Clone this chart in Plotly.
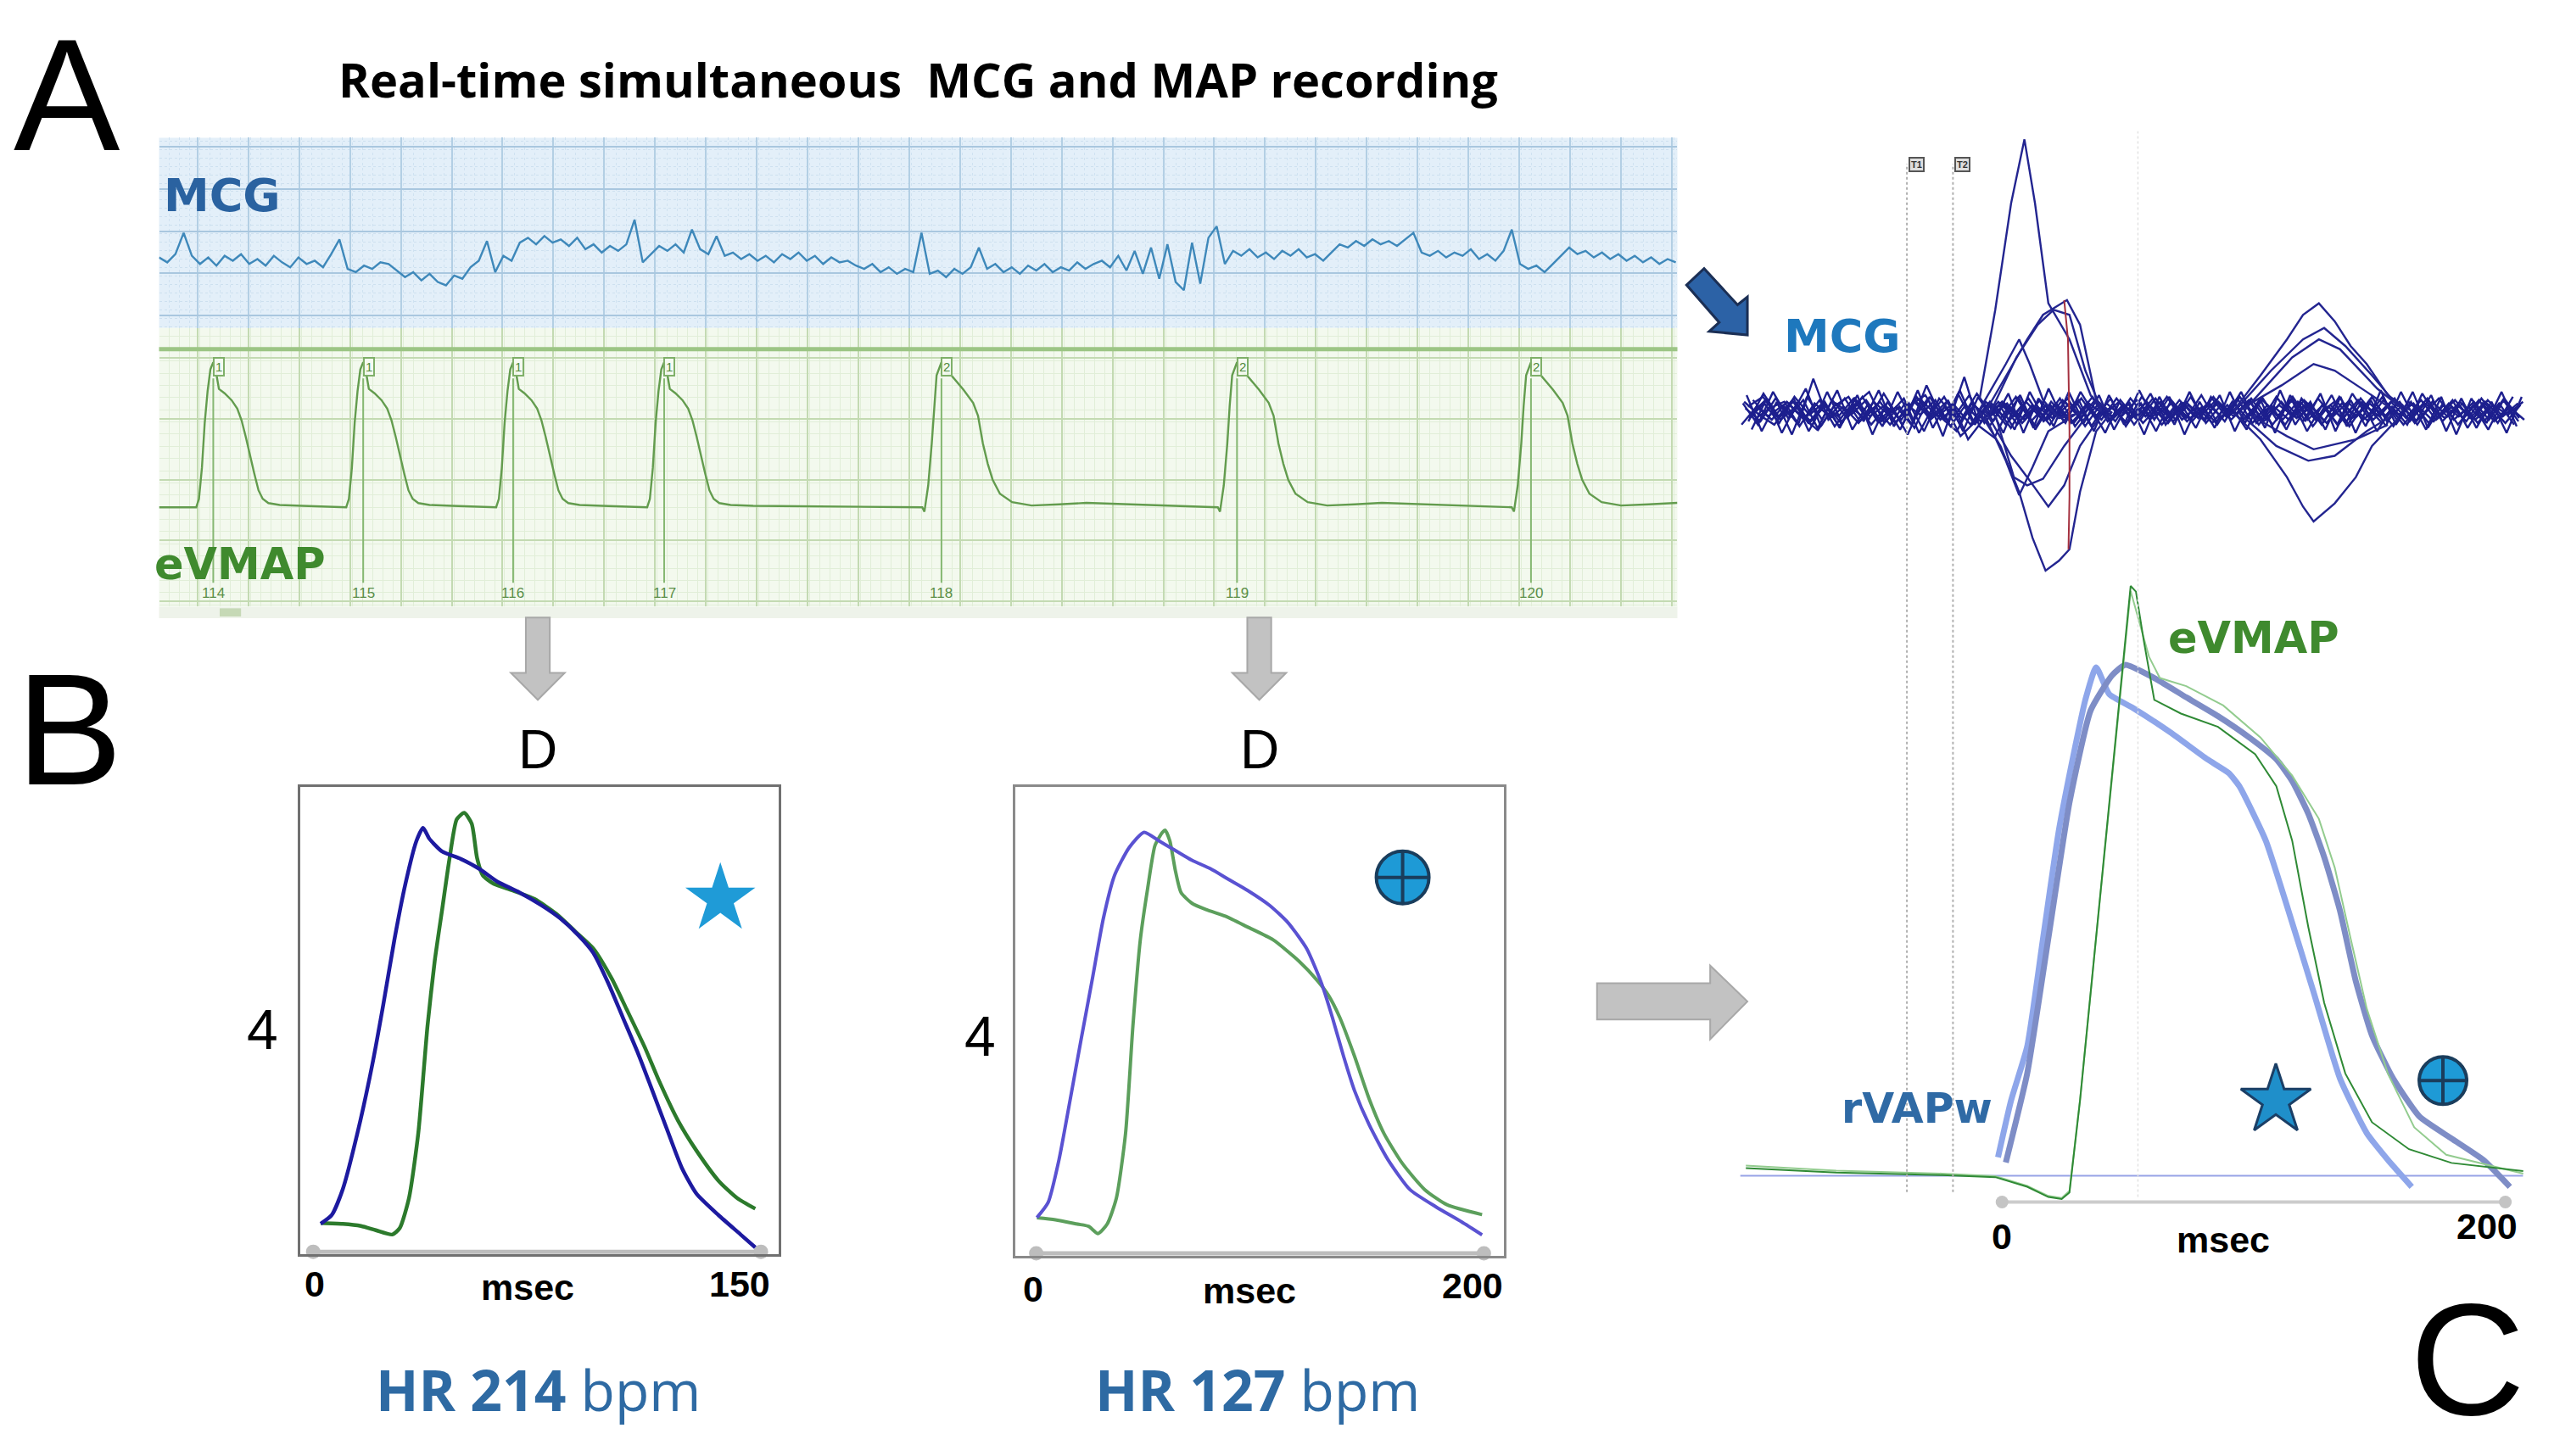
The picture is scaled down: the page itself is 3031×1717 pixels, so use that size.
import plotly.graph_objects as go

# ---------------- DATA ----------------
# Panel A: MCG strip (offset units, sampled every 15.2 ms)
MCG_A_DT_MS = 15.2
MCG_A_VALUES = [1, -2, 3, 16, 2, -3, 1, -4, 2, -1, 3, -3, 0, -4, 2, -2, -5, 1, -3, -1,
                -5, 3, 12, -6, -8, -4, -6, -2, -3, -7, -11, -8, -13, -9, -14, -16, -10, -12, -5, -1,
                11, -8, 2, -1, 10, 13, 9, 14, 10, 12, 8, 13, 6, 9, 4, 8, 5, 9, 24, -2,
                3, 8, 5, 9, 4, 18, 6, 3, 14, 2, 4, 0, 3, -1, 2, -2, 3, 0, 4, -1,
                2, -3, 1, -2, -1, -4, -6, -3, -8, -5, -9, -6, -8, 16, -9, -7, -11, -6, -9, -5,
                7, -6, -3, -8, -5, -9, -4, -7, -3, -8, -5, -7, -2, -6, -3, -1, -5, 2, -7, 5,
                -9, 7, -12, 9, -14, -19, 10, -15, 13, 20, -3, 5, 2, 6, 1, 4, 0, 5, 2, 6,
                1, 3, -1, 4, 9, 7, 11, 8, 12, 9, 11, 8, 12, 16, 4, 2, 5, 1, 4, 2,
                6, 0, 3, -1, 5, 18, -3, -6, -4, -8, -3, 2, 7, 3, 5, 1, 4, 0, 3, -1,
                2, -2, 1, -3, 0, -2]
A_RANGE_MS = 2815

# Panel A: eVMAP beats (foot times in ms), labels and markers
EVMAP_FEET_MS = [69, 347, 625, 905, 1419, 1967, 2512]
BEAT_LABELS = ["114", "115", "116", "117", "118", "119", "120"]
BEAT_MARKS = ["1", "1", "1", "1", "2", "2", "2"]
FAST_T = [0, 5, 10.5, 15.7, 21, 26.2, 31.5, 36.7, 42, 52.4, 65.5, 76, 83.9, 91.8, 99.6, 107.5,
          115.4, 123.2, 133.7, 154.7, 196.6]
FAST_V = [0, 0.058, 0.272, 0.583, 0.80, 0.951, 1.0, 0.93, 0.816, 0.786, 0.738, 0.68, 0.60, 0.485,
          0.35, 0.233, 0.117, 0.058, 0.029, 0.016, 0.01]
SLOW_T = [-4, 0, 7, 13.6, 18, 22.6, 31.6, 40, 49.7, 72.3, 90.3, 99.4, 108.4, 117.4, 126.5, 140,
          162.6, 198.7, 250, 300]
SLOW_V = [0.0, -0.03, 0.15, 0.44, 0.70, 0.91, 1.0, 0.93, 0.91, 0.81, 0.72, 0.63, 0.44, 0.30, 0.19,
          0.093, 0.035, 0.012, 0.02, 0.03]

# Panel B1 (HR 214 bpm): time ms, amplitude (normalised)
B1_BLUE_T = [2.5, 6.2, 9.9, 14.8, 19.8, 23.5, 27.2, 30.9, 34.6, 36.8, 38.9, 43.2, 49.4, 55.6, 61.7,
             69.1, 76.5, 82.7, 88.9, 93.8, 98.8, 103.7, 108.6, 113.6, 118.5, 123.5, 128.4, 135.8,
             143.2, 148.1]
B1_BLUE_V = [0.065, 0.085, 0.145, 0.275, 0.435, 0.575, 0.725, 0.855, 0.955, 0.985, 0.96, 0.93, 0.913,
             0.89, 0.86, 0.835, 0.805, 0.775, 0.735, 0.695, 0.625, 0.545, 0.465, 0.375, 0.285, 0.195,
             0.135, 0.085, 0.04, 0.01]
B1_GREEN_T = [2.5, 9.9, 16.0, 21.0, 26.5, 29.0, 32.1, 35.2, 38.3, 40.7, 43.2, 45.7, 48.1, 50.6, 53.1,
              54.9, 56.8, 60.5, 66.7, 74.1, 81.5, 87.7, 93.8, 100.0, 104.9, 111.1, 116.0, 122.2,
              128.4, 135.8, 142.0, 148.1]
B1_GREEN_V = [0.067, 0.065, 0.06, 0.05, 0.04, 0.055, 0.125, 0.275, 0.525, 0.675, 0.795, 0.915, 1.005,
              1.02, 0.995, 0.915, 0.875, 0.855, 0.84, 0.82, 0.785, 0.745, 0.705, 0.635, 0.565, 0.475,
              0.395, 0.305, 0.235, 0.165, 0.125, 0.10]
B1_X_ENDS = [0, 150]
B1_STAR = (136.4, 0.82)

# Panel B2 (HR 127 bpm)
B2_BLUE_T = [0.3, 5.3, 10.2, 15.2, 20.1, 25.1, 30.0, 35.0, 41.6, 48.2, 54.8, 61.4, 69.6, 77.9, 86.1,
             94.4, 104.3, 112.5, 120.8, 127.4, 132.3, 137.3, 142.2, 148.8, 157.1, 167.0, 178.6,
             190.1, 199.2]
B2_BLUE_V = [0.083, 0.118, 0.218, 0.358, 0.498, 0.638, 0.778, 0.878, 0.943, 0.978, 0.958, 0.938,
             0.913, 0.893, 0.868, 0.843, 0.808, 0.768, 0.708, 0.628, 0.548, 0.458, 0.378, 0.298,
             0.218, 0.148, 0.108, 0.073, 0.043]
B2_GREEN_T = [0.3, 8.6, 18.5, 23.4, 27.6, 31.7, 35.8, 39.9, 43.2, 46.5, 49.8, 53.1, 56.4, 57.6, 59.7,
              62.2, 64.7, 69.6, 76.2, 84.5, 94.4, 105.9, 117.5, 125.7, 130.7, 135.6, 142.2, 148.8,
              155.4, 163.7, 173.6, 183.5, 199.2]
B2_GREEN_V = [0.083, 0.078, 0.068, 0.063, 0.046, 0.068, 0.128, 0.278, 0.528, 0.728, 0.848, 0.948,
              0.978, 0.983, 0.958, 0.888, 0.838, 0.813, 0.798, 0.783, 0.758, 0.728, 0.678, 0.633,
              0.598, 0.548, 0.458, 0.358, 0.278, 0.208, 0.148, 0.113, 0.090]
B2_X_ENDS = [0, 200]
B2_CIRCLE = (163.7, 0.873)

# Panel C: MCG overlay (ms, offset units)
MCG_C_DT = 6
MCG_C_BAND_T0 = [-102, -100.5, -99, -103.5, -101, -98.5, -102.5, -100, -101.5, -99.5, -103, -100.8]
MCG_C_BAND = [
    [2, -6, 8, -3, 14, -9, 5, -2, 7, -6, 3, -8, 16, -4, -12, 5, -3, 6, -8, 4, -5, 7, -2, 9, -6, 4,
     -3, 8, -7, 5, -4, 9, -3, 6, -8, 3, -5, 7, -2, 6, -9, 4, -3, 8, -6, 5, -2, 7, -4, 6, -3, 2],
    [-4, 5, -7, 9, -2, 6, -10, 8, -3, 4, -11, 7, -5, 3, -15, -6, 4, -8, 3, -9, 6, -4, 8, -5, 3, -7,
     9, -2, 5, -6, 3, -8, 6, -4, 7, -3, 9, -5, 4, -8, 3, -6, 7, -2, 5, -7, 4, -3, 6, -5, 8, -4],
    [7, -3, 4, -8, 20, -5, 3, -7, 6, -2, 8, -13, 4, -6, 21, -9, -16, 3, -5, 7, -3, 5, -9, 4, -6, 8,
     -3, 6, -5, 9, -7, 4, -2, 8, -5, 6, -4, 3, -7, 5, -3, 9, -6, 4, -8, 6, -3, 5, -7, 4, -2, 6],
    [-8, 3, -5, 6, -3, -11, 7, -4, 9, -6, 2, -14, 6, -3, 5, -17, -5, 6, -3, 8, -6, 3, -7, 5, -2, 6,
     -8, 4, -5, 7, -3, 5, -6, 9, -4, 3, -8, 6, -5, 4, -7, 8, -3, 6, -4, 7, -5, 3, -6, 8, -4, 3],
    [3, 9, -4, 6, -7, 4, -3, 8, -5, 11, -4, 6, -3, 9, -7, 4, -9, 5, -6, 3, -8, 6, -4, 7, -6, 3,
     -5, 8, -4, 6, -3, 7, -5, 4, -6, 9, -3, 5, -8, 6, -4, 3, -7, 5, -3, 8, -6, 4, -5, 7, -3, 5],
    [-5, 2, 6, -9, 5, -3, 8, -6, 3, -8, 5, -2, 7, -9, 4, -6, 3, -10, 6, -4, 5, -7, 3, -5, 8, -4,
     6, -8, 3, -6, 5, -4, 8, -7, 4, -5, 6, -9, 3, -4, 7, -5, 4, -8, 3, -6, 5, -4, 7, -6, 3, -5],
    [6, -2, -8, 4, -5, 7, -9, 3, -4, 6, -7, 4, 10, -5, 3, -8, 6, -4, 9, -6, 4, -3, 6, -9, 5, -3,
     7, -4, 9, -5, 3, -7, 4, -6, 5, -8, 4, -6, 8, -3, 6, -5, 3, -9, 6, -2, 8, -5, 3, -6, 5, -8],
    [-2, 7, -5, 3, -6, 4, -7, 5, -8, 3, -5, 9, -3, 6, -4, 11, -2, 5, -7, 3, -4, 8, -6, 4, -3, 5,
     -7, 3, -6, 4, -5, 6, -3, 7, -6, 4, -3, 5, -6, 9, -4, 5, -3, 6, -7, 3, -4, 6, -5, 3, -7, 4],
    [10, -12, 6, -14, 9, -5, 13, -11, 4, -9, 12, -6, 8, -15, 11, -7, 5, -13, 9, -10, 14, -6, 7,
     -12, 10, -8, 13, -5, 9, -14, 6, -10, 12, -7, 8, -13, 10, -6, 11, -12, 7, -9, 13, -8, 6, -11,
     9, -14, 8, -7, 12, -9],
    [-11, 8, -13, 5, -9, 12, -7, 10, -14, 6, -8, 13, -10, 7, -12, 9, -6, 11, -13, 8, -9, 12, -7, 10,
     -11, 6, -14, 9, -8, 12, -6, 10, -12, 7, -10, 13, -8, 6, -11, 9, -13, 7, -9, 12, -6, 10, -12,
     8, -10, 6, -13, 9],
    [5, -8, 12, -4, 7, -11, 3, 9, -6, 13, -9, 5, -12, 8, -3, 10, -7, 4, -11, 12, -5, 8, -9, 3, -13,
     7, -4, 11, -8, 5, -10, 9, -3, 12, -7, 4, -11, 8, -5, 10, -9, 6, -12, 3, -8, 11, -4, 7, -10, 5,
     -7, 9],
    [-6, 11, -3, 8, -12, 5, -9, 4, 12, -7, 3, -10, 9, -5, 13, -8, 6, -4, 10, -11, 4, -7, 12, -3, 8,
     -9, 5, -12, 7, -4, 10, -6, 3, -11, 9, -5, 7, -12, 4, -8, 11, -3, 9, -6, 12, -10, 5, -8, 4, -11,
     7, -6],
]
MCG_C_DEFLECTIONS = [
    ([-9, -2.7, 3.6, 8.9, 13.1, 18.4, 26.8, 35.2, 39.5], [7, 62, 127, 166, 127, 66, 44, 10, 0]),
    ([-9, -0.6, 6.8, 12.1, 17.3, 22.6, 26.8, 31.0, 37.4, 43.7], [0, -21, -49, -77, -97, -91, -84, -49, -12, 0]),
    ([-9, 1.5, 6.8, 11, 16.3, 22.6, 31], [1, 29, 44, 29, 7, -4, -1]),
    ([-6.9, 10, 16.3, 25.8, 31, 37.4, 43.7], [-1, 44, 59, 68, 53, 7, -1]),
    ([-6.9, 1.5, 6.8, 12.1, 18.4, 28.9], [-2, -30, -51, -34, -12, -2]),
    ([-6.9, 3.6, 10, 18.4, 24.7, 31, 39.5], [1, -27, -40, -58, -45, -21, -2]),
    ([-4.8, 5.7, 14.2, 20.5, 26.8, 33.1, 39.5], [-1, 33, 53, 62, 59, 25, 1]),
    ([-2.7, 4.7, 10, 16.3, 24.7, 33.1], [-2, -40, -45, -41, -21, -4]),
    ([92.2, 102.7, 113.2, 119.6, 125.9, 132.2, 138.5, 144.9, 153.3, 161.7], [1, 22, 44, 59, 66, 55, 40, 29, 10, 1]),
    ([92.2, 106.9, 119.6, 128, 136.4, 147, 157.5], [0, 25, 44, 51, 40, 22, 3]),
    ([94.3, 111.1, 123.8, 132.2, 144.9, 155.4], [1, 16, 29, 25, 12, 1]),
    ([92.2, 102.7, 113.2, 119.6, 123.8, 132.2, 140.6, 147, 157.5], [-1, -17, -40, -58, -67, -56, -40, -21, -4]),
    ([94.3, 109, 121.7, 132.2, 144.9, 155.4], [-1, -21, -30, -27, -12, -2]),
    ([98.5, 113.2, 123.8, 140.6, 153.3], [-2, -15, -23, -17, -8]),
    ([96.4, 115.3, 125.9, 134.3, 149.1, 159.6], [1, 33, 44, 38, 14, 1]),
]
MCG_C_RED = ([24.7, 26.2, 26.8, 26.8, 26.4], [68, 44, -12, -52, -84])
T_MARKERS_MS = [-37.8, -19.5]
T_MARKER_LABELS = ["T1", "T2"]

# Panel C: superimposed action potentials (ms, normalised)
C_RVAP_FAST_T = [-1.6, 3.6, 10.0, 16.3, 22.6, 28.9, 33.1, 37.4, 42.6, 52.1, 66.9, 81.6, 90.1, 94.3,
                 104.8, 113.2, 123.8, 134.3, 144.9, 153.3, 162.8]
C_RVAP_FAST_V = [0.036, 0.148, 0.254, 0.467, 0.680, 0.840, 0.936, 1.0, 0.947, 0.920, 0.872, 0.819,
                 0.792, 0.766, 0.659, 0.531, 0.361, 0.191, 0.084, 0.031, -0.022]
C_RVAP_SLOW_T = [1.5, 10.0, 18.4, 26.8, 35.2, 43.7, 49.0, 60.5, 73.2, 85.8, 98.5, 109.0, 115.3, 121.7,
                 128.0, 134.3, 140.6, 147.0, 155.4, 165.9, 178.6, 191.2, 201.8]
C_RVAP_SLOW_V = [0.026, 0.201, 0.467, 0.734, 0.915, 0.984, 1.005, 0.979, 0.941, 0.904, 0.861, 0.819,
                 0.776, 0.712, 0.627, 0.521, 0.382, 0.276, 0.191, 0.116, 0.073, 0.031, -0.022]
C_EVMAP_A_T = [-101.8, -65.9, -23.8, -2.7, 10.0, 18.4, 23.7, 26.8, 31.0, 35.2, 39.5, 43.7, 47.9, 51.1,
               53.2, 56.3, 60.5, 71.1, 85.8, 100.6, 109.0, 115.3, 121.7, 128.0, 136.4, 147.0, 161.7,
               178.6, 207.1]
C_EVMAP_A_V = [0.015, 0.006, 0.001, -0.003, -0.022, -0.042, -0.046, -0.033, 0.148, 0.361, 0.574, 0.787,
               1.0, 1.160, 1.149, 1.053, 0.936, 0.909, 0.883, 0.829, 0.766, 0.659, 0.489, 0.340, 0.201,
               0.105, 0.052, 0.025, 0.009]
C_EVMAP_B_T = [-101.8, -65.9, -23.8, -2.7, 10.0, 18.4, 23.7, 26.8, 31.0, 35.2, 39.5, 43.7, 47.9, 51.1,
               58.4, 62.7, 73.2, 87.9, 102.7, 115.3, 125.9, 132.2, 138.5, 144.9, 153.3, 163.8, 176.5,
               207.1]
C_EVMAP_B_V = [0.02, 0.01, 0.004, -0.001, -0.02, -0.04, -0.044, -0.03, 0.15, 0.36, 0.57, 0.79, 1.0,
               1.15, 1.021, 0.979, 0.963, 0.925, 0.862, 0.787, 0.702, 0.606, 0.467, 0.329, 0.201,
               0.095, 0.041, 0.004]
C_BASELINE_T = [-104, 207]
C_X_ENDS = [0, 200]
C_AXIS_LEVEL = -0.052
C_STAR = (108.8, 0.148)
C_CIRCLE = (175.2, 0.187)

# ---------------- LAYOUT HELPERS (reference pixel grid 1568x888) ----------------
def px(x):
    return x / 1568.0


def py(y):
    return 1 - y / 888.0


fig = go.Figure()
NOHOV = dict(hoverinfo="skip", showlegend=False)

# ---- Panel A: MCG strip
tA = [i * MCG_A_DT_MS for i in range(len(MCG_A_VALUES))]
fig.add_trace(go.Scatter(x=tA, y=MCG_A_VALUES, xaxis="x", yaxis="y", mode="lines",
                         line=dict(color="#3e88ba", width=2.4), **NOHOV))

# ---- Panel A: eVMAP strip
ev_t, ev_v = [0.0], [0.0]
for foot, mark in zip(EVMAP_FEET_MS, BEAT_MARKS):
    T, V = (FAST_T, FAST_V) if mark == "1" else (SLOW_T, SLOW_V)
    for t, v in zip(T, V):
        if foot + t > ev_t[-1]:
            ev_t.append(foot + t)
            ev_v.append(v)
ev_t.append(A_RANGE_MS)
ev_v.append(0.03)
peaks = []
for foot, mark in zip(EVMAP_FEET_MS, BEAT_MARKS):
    T, V = (FAST_T, FAST_V) if mark == "1" else (SLOW_T, SLOW_V)
    peaks.append(foot + T[V.index(max(V))])
mx, my = [], []
for pk in peaks:
    mx += [pk, pk, None]
    my += [0.888, -0.52, None]
fig.add_trace(go.Scatter(x=mx, y=my, xaxis="x2", yaxis="y2", mode="lines",
                         line=dict(color="#86b873", width=2), **NOHOV))
fig.add_trace(go.Scatter(x=ev_t, y=ev_v, xaxis="x2", yaxis="y2", mode="lines",
                         line=dict(color="#639c4e", width=2.4), **NOHOV))

# ---- Panel B1
fig.add_trace(go.Scatter(x=B1_X_ENDS, y=[0, 0], xaxis="x3", yaxis="y3", mode="lines+markers",
                         line=dict(color="#bdbdbd", width=5), marker=dict(color="#bdbdbd", size=17),
                         cliponaxis=False, **NOHOV))
fig.add_trace(go.Scatter(x=B1_GREEN_T, y=B1_GREEN_V, xaxis="x3", yaxis="y3", mode="lines",
                         line=dict(color="#2c7a2c", width=4.5, shape="spline", smoothing=0.6), **NOHOV))
fig.add_trace(go.Scatter(x=B1_BLUE_T, y=B1_BLUE_V, xaxis="x3", yaxis="y3", mode="lines",
                         line=dict(color="#1d1aa0", width=4.5, shape="spline", smoothing=0.6), **NOHOV))
fig.add_trace(go.Scatter(x=[B1_STAR[0]], y=[B1_STAR[1]], xaxis="x3", yaxis="y3", mode="markers",
                         marker=dict(symbol="star", size=62, color="#1f9bd7", line=dict(width=0)),
                         **NOHOV))

# ---- Panel B2
fig.add_trace(go.Scatter(x=B2_X_ENDS, y=[0, 0], xaxis="x4", yaxis="y4", mode="lines+markers",
                         line=dict(color="#bdbdbd", width=5), marker=dict(color="#bdbdbd", size=17),
                         cliponaxis=False, **NOHOV))
fig.add_trace(go.Scatter(x=B2_GREEN_T, y=B2_GREEN_V, xaxis="x4", yaxis="y4", mode="lines",
                         line=dict(color="#5c9f5c", width=4, shape="spline", smoothing=0.6), **NOHOV))
fig.add_trace(go.Scatter(x=B2_BLUE_T, y=B2_BLUE_V, xaxis="x4", yaxis="y4", mode="lines",
                         line=dict(color="#5a52d2", width=4, shape="spline", smoothing=0.6), **NOHOV))
fig.add_trace(go.Scatter(x=[B2_CIRCLE[0]], y=[B2_CIRCLE[1]], xaxis="x4", yaxis="y4", mode="markers",
                         marker=dict(symbol="circle-cross", size=62, color="#1e9ad6",
                                     line=dict(width=4, color="#1a3d5c")), **NOHOV))

# ---- Panel C: MCG overlay
for t0, vals in zip(MCG_C_BAND_T0, MCG_C_BAND):
    t = [t0 + j * MCG_C_DT for j in range(len(vals))]
    fig.add_trace(go.Scatter(x=t, y=vals, xaxis="x5", yaxis="y5", mode="lines",
                             line=dict(color="#1d1f8e", width=2.4), **NOHOV))
for t, v in MCG_C_DEFLECTIONS:
    fig.add_trace(go.Scatter(x=t, y=v, xaxis="x5", yaxis="y5", mode="lines",
                             line=dict(color="#232590", width=2.4), **NOHOV))
fig.add_trace(go.Scatter(x=MCG_C_RED[0], y=MCG_C_RED[1], xaxis="x5", yaxis="y5", mode="lines",
                         line=dict(color="#a4303f", width=2), **NOHOV))

# ---- Panel C: action potentials
fig.add_trace(go.Scatter(x=C_BASELINE_T, y=[0, 0], xaxis="x6", yaxis="y6", mode="lines",
                         line=dict(color="#97a3e6", width=2), **NOHOV))
fig.add_trace(go.Scatter(x=C_X_ENDS, y=[C_AXIS_LEVEL] * 2, xaxis="x6", yaxis="y6",
                         mode="lines+markers", line=dict(color="#cccccc", width=4),
                         marker=dict(color="#c4c4c4", size=15), cliponaxis=False, **NOHOV))
fig.add_trace(go.Scatter(x=C_RVAP_FAST_T, y=C_RVAP_FAST_V, xaxis="x6", yaxis="y6", mode="lines",
                         line=dict(color="#8ea6ea", width=7, shape="spline", smoothing=0.5), **NOHOV))
fig.add_trace(go.Scatter(x=C_RVAP_SLOW_T, y=C_RVAP_SLOW_V, xaxis="x6", yaxis="y6", mode="lines",
                         line=dict(color="#7e8dc6", width=7, shape="spline", smoothing=0.5), **NOHOV))
fig.add_trace(go.Scatter(x=C_EVMAP_B_T, y=C_EVMAP_B_V, xaxis="x6", yaxis="y6", mode="lines",
                         line=dict(color="#93cc8f", width=2), **NOHOV))
fig.add_trace(go.Scatter(x=C_EVMAP_A_T, y=C_EVMAP_A_V, xaxis="x6", yaxis="y6", mode="lines",
                         line=dict(color="#2f8a35", width=2), **NOHOV))
fig.add_trace(go.Scatter(x=[C_STAR[0]], y=[C_STAR[1]], xaxis="x6", yaxis="y6", mode="markers",
                         marker=dict(symbol="star", size=62, color="#1f8fca",
                                     line=dict(width=3, color="#1b3f66")), **NOHOV))
fig.add_trace(go.Scatter(x=[C_CIRCLE[0]], y=[C_CIRCLE[1]], xaxis="x6", yaxis="y6", mode="markers",
                         marker=dict(symbol="circle-cross", size=56, color="#1e9ad6",
                                     line=dict(width=4, color="#1a3d5c")), **NOHOV))

# ---------------- AXES ----------------
hidden = dict(showticklabels=False, ticks="", zeroline=False, showline=False, showgrid=False,
              fixedrange=True)

ms_per_px = 3.04
A_major_x = 31 * ms_per_px
layout_axes = dict(
    xaxis=dict(hidden, domain=[px(97), px(1023)], range=[0, A_RANGE_MS], anchor="y",
               showgrid=True, gridcolor="#b3cfe4", gridwidth=2, tickmode="linear",
               tick0=23.5 * ms_per_px, dtick=A_major_x,
               minor=dict(showgrid=True, tickmode="linear", dtick=A_major_x / 5,
                          gridcolor="#cfe2f1", gridwidth=1, griddash="dot")),
    yaxis=dict(hidden, domain=[py(200), py(84)], range=[-42, 74], anchor="x",
               showgrid=True, gridcolor="#a9c7df", gridwidth=2, tickmode="linear",
               tick0=17, dtick=25.7,
               minor=dict(showgrid=True, tickmode="linear", dtick=25.7 / 5,
                          gridcolor="#cde0ef", gridwidth=1, griddash="dot")),
    xaxis2=dict(hidden, domain=[px(97), px(1023)], range=[0, A_RANGE_MS], anchor="y2",
                showgrid=True, gridcolor="#c3dab2", gridwidth=2, tickmode="linear",
                tick0=23.5 * ms_per_px, dtick=A_major_x,
                minor=dict(showgrid=True, tickmode="linear", dtick=A_major_x / 5,
                           gridcolor="#e1eed8", gridwidth=1)),
    yaxis2=dict(hidden, domain=[py(370), py(200)], range=[-0.685, 1.236], anchor="x2",
                showgrid=True, gridcolor="#c3dab2", gridwidth=2, tickmode="linear",
                tick0=0.191, dtick=0.42,
                minor=dict(showgrid=True, tickmode="linear", dtick=0.084,
                           gridcolor="#e1eed8", gridwidth=1)),
    xaxis3=dict(hidden, domain=[px(183), px(475)], range=[-4.4, 156.0], anchor="y3",
                showline=True, mirror=True, linecolor="#707070", linewidth=3),
    yaxis3=dict(hidden, domain=[py(765), py(480)], range=[-0.006, 1.08], anchor="x3",
                showline=True, mirror=True, linecolor="#707070", linewidth=3),
    xaxis4=dict(hidden, domain=[px(619), px(917)], range=[-9.5, 208.8], anchor="y4",
                showline=True, mirror=True, linecolor="#8a8a8a", linewidth=3),
    yaxis4=dict(hidden, domain=[py(766), py(480)], range=[-0.006, 1.083], anchor="x4",
                showline=True, mirror=True, linecolor="#8a8a8a", linewidth=3),
    xaxis5=dict(hidden, domain=[px(1060), px(1545)], range=[-104.9, 211.1], anchor="y5"),
    yaxis5=dict(hidden, domain=[py(355), py(80)], range=[-104, 171], anchor="x5"),
    xaxis6=dict(hidden, domain=[px(1060), px(1545)], range=[-104.9, 211.1], anchor="y6"),
    yaxis6=dict(hidden, domain=[py(745), py(345)], range=[-0.0903, 1.2], anchor="x6"),
)

# ---------------- SHAPES ----------------
def poly(points):
    return "M " + " L ".join(f"{px(x):.5f},{py(y):.5f}" for x, y in points) + " Z"


shapes = [
    dict(type="rect", xref="x domain", yref="y domain", x0=0, x1=1, y0=0, y1=1,
         fillcolor="#e3eff9", line=dict(width=0), layer="below"),
    dict(type="rect", xref="x2 domain", yref="y2 domain", x0=0, x1=1, y0=0, y1=1,
         fillcolor="#f3f9ee", line=dict(width=0), layer="below"),
    dict(type="line", xref="x2 domain", yref="y2", x0=0, x1=1, y0=1.09, y1=1.09,
         line=dict(color="#9cc585", width=5)),
    dict(type="rect", xref="paper", yref="paper", x0=px(97), x1=px(1023), y0=py(377), y1=py(370),
         fillcolor="#eef3ea", line=dict(width=0)),
    dict(type="rect", xref="paper", yref="paper", x0=px(134), x1=px(147), y0=py(376), y1=py(371),
         fillcolor="#c6d9b6", line=dict(width=0)),
]
for cx in (328, 768):
    shapes.append(dict(type="path", xref="paper", yref="paper",
                       path=poly([(cx - 7.3, 376.7), (cx + 7.3, 376.7), (cx + 7.3, 410.4),
                                  (cx + 16.4, 410.4), (cx, 426.8), (cx - 16.4, 410.4),
                                  (cx - 7.3, 410.4)]),
                       fillcolor="#c2c2c2", line=dict(color="#a8a8a8", width=2)))
shapes.append(dict(type="path", xref="paper", yref="paper",
                   path=poly([(974, 599.7), (1043, 599.7), (1043, 588.9), (1065.7, 610.8),
                              (1043, 633.8), (1043, 621.8), (974, 621.8)]),
                   fillcolor="#c2c2c2", line=dict(color="#a8a8a8", width=2)))
shapes.append(dict(type="path", xref="paper", yref="paper",
                   path=poly([(1028.6, 173.8), (1039.3, 163.8), (1059.7, 185.9), (1065.7, 181.1),
                              (1065.7, 204.3), (1042.4, 202.1), (1048.5, 196.6)]),
                   fillcolor="#2c62a6", line=dict(color="#1b2f55", width=3)))
for tm in T_MARKERS_MS:
    shapes.append(dict(type="line", xref="x5", yref="paper", x0=tm, x1=tm, y0=py(727), y1=py(100),
                       line=dict(color="#b0b0b0", width=2, dash="dot")))
shapes.append(dict(type="line", xref="x5", yref="paper", x0=54, x1=54, y0=py(730), y1=py(80),
                   line=dict(color="#e2e2e2", width=1.5, dash="dot")))

# ---------------- ANNOTATIONS ----------------
ann = []


def text(x, y, s, size, color="#000000", family="Liberation Sans", xanchor="center", **kw):
    ann.append(dict(xref="paper", yref="paper", x=px(x), y=py(y), text=s, showarrow=False,
                    xanchor=xanchor, yanchor="middle",
                    font=dict(size=size, color=color, family=family), **kw))


text(41, 58, "A", 188)
text(42, 445, "B", 188)
text(1505, 829, "C", 188)
text(560, 48, "<b>Real-time simultaneous  MCG and MAP recording</b>", 56, family="Open Sans")
text(99, 119, "<b>MCG</b>", 54, color="#2a62a0", family="DejaVu Sans", xanchor="left")
text(93, 344, "<b>eVMAP</b>", 51, color="#3f8a2e", family="DejaVu Sans", xanchor="left")
text(1087, 205, "<b>MCG</b>", 54, color="#1e78bd", family="DejaVu Sans", xanchor="left")
text(1321, 389, "<b>eVMAP</b>", 51, color="#3f8a2e", family="DejaVu Sans", xanchor="left")
text(1122, 676, "<b>rVAPw</b>", 49, color="#2f6aa5", family="DejaVu Sans", xanchor="left")
text(328, 457, "D", 64)
text(768, 457, "D", 64)
text(160, 628, "4", 66)
text(598, 632, "4", 66)
for (x, y, s) in [(192, 783, "0"), (322, 785, "msec"), (451, 783, "150"),
                  (630, 786, "0"), (762, 787, "msec"), (898, 784, "200"),
                  (1221, 754, "0"), (1356, 756, "msec"), (1517, 748, "200")]:
    text(x, y, f"<b>{s}</b>", 43)
text(328, 847, "<b>HR 214</b> bpm", 66, color="#2e6aa3", family="Open Sans")
text(767, 847, "<b>HR 127</b> bpm", 66, color="#2e6aa3", family="Open Sans")

for pk, lab, mark in zip(peaks, BEAT_LABELS, BEAT_MARKS):
    ann.append(dict(xref="x2", yref="y2", x=pk, y=-0.59, text=lab, showarrow=False,
                    font=dict(size=17, color="#5b8f48", family="Liberation Sans Narrow, Liberation Sans")))
    ann.append(dict(xref="x2", yref="y2", x=pk + 10, y=0.966, text=mark, showarrow=False,
                    font=dict(size=15, color="#4f8a3c", family="Liberation Sans"),
                    bordercolor="#7fb069", borderwidth=2, borderpad=1,
                    bgcolor="rgba(244,250,240,0.95)"))
for tm, lab in zip(T_MARKERS_MS, T_MARKER_LABELS):
    ann.append(dict(xref="x5", yref="paper", x=tm, y=py(95.5), text=f"<b>{lab}</b>",
                    showarrow=False, xanchor="left", xshift=2,
                    font=dict(size=11, color="#333333", family="Liberation Sans"),
                    bordercolor="#555555", borderwidth=2, borderpad=1, bgcolor="#dedede"))

fig.update_layout(
    width=3031, height=1717, margin=dict(l=0, r=0, t=0, b=0),
    paper_bgcolor="white", plot_bgcolor="rgba(0,0,0,0)", showlegend=False,
    shapes=shapes, annotations=ann, **layout_axes,
)

fig.write_html("out.html", config={"displayModeBar": False},
               post_script="document.body.style.margin='0px';")
